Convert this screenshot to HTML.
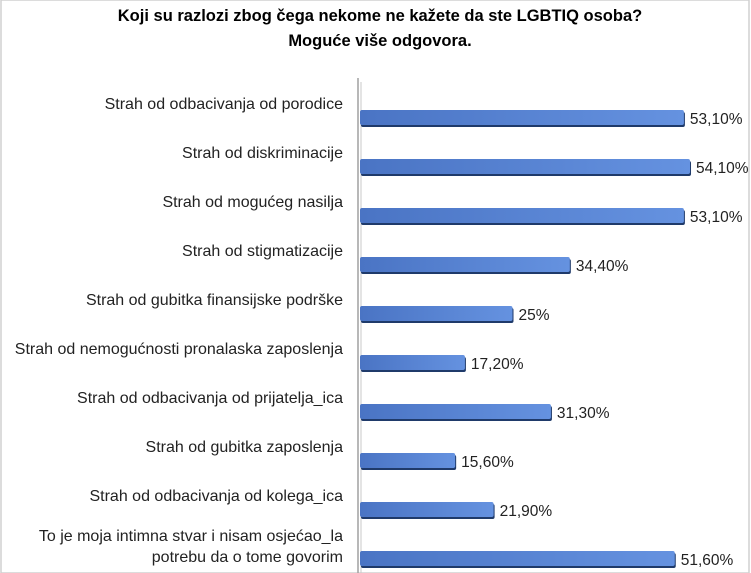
<!DOCTYPE html>
<html><head><meta charset="utf-8">
<style>
html,body{margin:0;padding:0;background:#fff;}
svg{display:block;font-family:"Liberation Sans Narrow","Liberation Sans",sans-serif;}
</style></head>
<body>
<svg id="chart" width="751" height="573" viewBox="0 0 751 573">
<defs>
<linearGradient id="bg" x1="0" y1="0" x2="1" y2="0">
<stop offset="0" stop-color="#4a74c4"/><stop offset="1" stop-color="#6592e0"/>
</linearGradient>
</defs>
<rect x="1" y="0" width="748" height="573" fill="#fff" stroke="#d0d0d0" stroke-width="1.5"/>
<text x="380" y="21" text-anchor="middle" font-size="16.5" font-weight="bold" fill="#000">Koji su razlozi zbog čega nekome ne kažete da ste LGBTIQ osoba?</text>
<text x="380" y="46" text-anchor="middle" font-size="16.5" font-weight="bold" fill="#000">Moguće više odgovora.</text>
<line x1="358" y1="78" x2="358" y2="573" stroke="#a0a0a0" stroke-width="1.5"/>
<line x1="361" y1="82" x2="361" y2="573" stroke="#c8c8c8" stroke-width="1"/>
<g id="bars"></g>
</svg>
<script>
const categories = [
 ["Strah od odbacivanja od porodice"],
 ["Strah od diskriminacije"],
 ["Strah od mogućeg nasilja "],
 ["Strah od stigmatizacije"],
 ["Strah od gubitka finansijske podrške"],
 ["Strah od nemogućnosti pronalaska zaposlenja "],
 ["Strah od odbacivanja od prijatelja_ica"],
 ["Strah od gubitka zaposlenja"],
 ["Strah od odbacivanja od kolega_ica"],
 ["To je moja intimna stvar i nisam osjećao_la","potrebu da o tome govorim"]
];
const values = [53.1, 54.1, 53.1, 34.4, 25, 17.2, 31.3, 15.6, 21.9, 51.6];
const valueLabels = ["53,10%","54,10%","53,10%","34,40%","25%","17,20%","31,30%","15,60%","21,90%","51,60%"];

const NS="http://www.w3.org/2000/svg";
const g=document.getElementById('bars');
const x0=360, pxPer=6.1;
const xScale=v=>x0+v*pxPer;
const yCenter=i=>118+i*49;
function mk(tag,attrs){const e=document.createElementNS(NS,tag);for(const k in attrs)e.setAttribute(k,attrs[k]);g.appendChild(e);return e;}
values.forEach((v,i)=>{
  const yc=yCenter(i), w=xScale(v)-x0;
  const sh=mk('rect',{x:x0+1,y:yc-6,width:w,height:15,rx:2,fill:'#1f3a6a'});
  
  
  const r=mk('rect',{x:x0,y:yc-8,width:w,height:15,rx:2,fill:'url(#bg)'});
  
  
  const t=mk('text',{x:xScale(v)+6,y:yc+6,'font-size':15.5,fill:'#222'});
  t.textContent=valueLabels[i];
  
  
  const lines=categories[i];
  lines.forEach((ln,j)=>{
    const ty = lines.length>1 ? yc-18+j*21 : yc-9;
    const c=mk('text',{x:343,y:ty,'text-anchor':'end','font-size':16,fill:'#222','xml:space':'preserve'});
    c.textContent=ln;
    
    
  });
});
</script>
</body></html>
